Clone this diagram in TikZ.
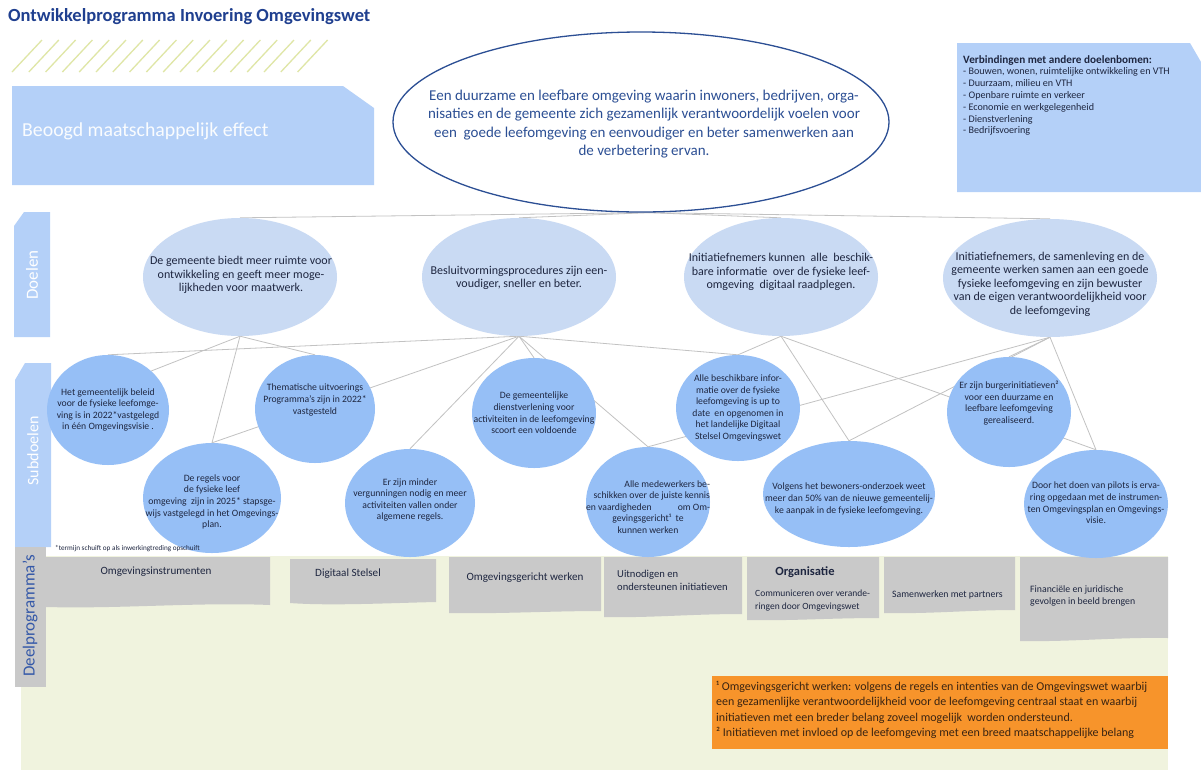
\documentclass[tikz,border=0pt]{standalone}
\usepackage{fontspec}
\setmainfont{Carlito}
\usetikzlibrary{shapes.geometric,backgrounds}

\definecolor{lblue}{HTML}{B4D0F8}
\definecolor{dellc}{HTML}{C9DAF3}
\definecolor{scirc}{HTML}{96BFF6}
\definecolor{navy}{HTML}{1E2640}
\definecolor{tblue}{HTML}{1F3F8F}
\definecolor{eblue}{HTML}{2C4F94}
\definecolor{gboxc}{HTML}{C9C9C9}
\definecolor{gbg}{HTML}{F0F3DE}
\definecolor{orng}{HTML}{F7942B}
\definecolor{hatchc}{HTML}{DFE6A6}
\definecolor{linegray}{HTML}{C2C2C2}
\definecolor{dblab}{HTML}{3458A8}
\definecolor{ftext}{HTML}{3A2412}

\newcommand\fsz[2]{\fontsize{#1}{#2}\selectfont}

\begin{document}
\begin{tikzpicture}[x=1pt,y=-1pt,
  doel/.style={ellipse, fill=dellc, draw=none, inner sep=0pt},
  sub/.style={ellipse, fill=scirc, draw=none, inner sep=0pt},
  dtext/.style={align=center, text=navy, font=\fsz{12}{13.5}, inner sep=0pt},
  stext/.style={align=center, text=navy, font=\fsz{9.7}{11.6}, inner sep=0pt},
  btext/.style={align=left, text=navy, font=\fsz{10}{12.5}, inner sep=0pt},
  cline/.style={draw=linegray, line width=0.8pt},
  vlab/.style={rotate=90, font=\fsz{17}{20}, inner sep=0pt}
]
\useasboundingbox (0,0) rectangle (1201,772);
\begin{scope}[on background layer]
  \fill[white] (0,0) rectangle (1201,772);
\end{scope}

% title
\node[anchor=west, text=tblue, font=\bfseries\fsz{18.5}{20}, inner sep=0pt] (title) at (8,17) {Ontwikkelprogramma Invoering Omgevingswet};

% hatch
\foreach \i in {0,...,17} \draw[hatchc, line width=1.3pt] (12+\i*16.8,72) -- ++(30,-32);

% beoogd box
\fill[lblue] (12,86) -- (343,86) -- (374,108) -- (374,185) -- (12,185) -- cycle;
\node[anchor=west, text=white!94!lblue, font=\fsz{19.8}{22}, inner sep=0pt] (beoogd) at (22,131) {Beoogd maatschappelijk effect};

% top-right box
\fill[lblue] (957,43) -- (1190,43) -- (1201,62) -- (1201,192) -- (957,192) -- cycle;
\node[anchor=north west, align=left, text=navy, font=\fsz{10.1}{11.8}, inner sep=0pt] (verb) at (963,55)
 {{\bfseries\fsz{11.2}{11.8}Verbindingen met andere doelenbomen:}\\
  - Bouwen, wonen, ruimtelijke ontwikkeling en VTH\\
  - Duurzaam, milieu en VTH\\
  - Openbare ruimte en verkeer\\
  - Economie en werkgelegenheid\\
  - Dienstverlening\\
  - Bedrijfsvoering};

% big ellipse
\node[ellipse, draw=eblue, line width=1.3pt, fill=white, minimum width=496pt, minimum height=180pt, inner sep=0pt] (E) at (641,122) {};
\node[align=center, text=eblue, font=\fsz{15}{18.5}, inner sep=0pt] (Et) at (644,124)
 {Een duurzame en leefbare omgeving waarin inwoners, bedrijven, orga-\\
  nisaties en de gemeente zich gezamenlijk verantwoordelijk voelen voor\\
  een\ \ goede leefomgeving en eenvoudiger en beter samenwerken aan\\
  de verbetering ervan.};

% left labels
\fill[lblue] (24,212) -- (50,212) -- (50,337) -- (14,337) -- (14,226) -- cycle;
\node[vlab, text=white] (ldoel) at (32,275) {Doelen};
\fill[lblue] (25,363) -- (51,363) -- (51,547) -- (15,547) -- (15,380) -- cycle;
\node[vlab, text=white, font=\fsz{16}{20}] (lsub) at (33,451) {Subdoelen};

% green background and deelprogramma boxes
\fill[gbg] (21,556) rectangle (1168,770);
\fill[gboxc] (15,547) rectangle (46,687);
\node[vlab, text=dblab, font=\fsz{17}{19}] (ldeel) at (30,616) {Deelprogramma’s};

\fill[gboxc] (46,557) -- (270,557) -- (270,605) .. controls (200,602) and (120,609) .. (46,607) -- cycle;
\node[text=navy, font=\fsz{11.1}{12.5}, inner sep=0pt] (b1) at (156,572) {Omgevingsinstrumenten};
\fill[gboxc] (290,559) -- (436,559) -- (436,602) .. controls (390,603) and (330,606) .. (290,603) -- cycle;
\node[text=navy, font=\fsz{11.1}{12.5}, inner sep=0pt] (b2) at (348,574) {Digitaal Stelsel};
\fill[gboxc] (449,557) -- (601,557) -- (601,611) .. controls (550,611) and (500,614) .. (449,613) -- cycle;
\node[text=navy, font=\fsz{11.1}{12.5}, inner sep=0pt] (b3) at (525,578) {Omgevingsgericht werken};
\fill[gboxc] (604,557) -- (742,557) -- (742,614) .. controls (690,614) and (650,618) .. (604,617) -- cycle;
\node[btext, anchor=north west, font=\fsz{10.6}{12.8}] (b4) at (617,570) {Uitnodigen en\\ ondersteunen initiatieven};
\fill[gboxc] (747,557) -- (879,557) -- (879,618) .. controls (830,618) and (790,621) .. (747,620) -- cycle;
\node[text=navy, font=\bfseries\fsz{12.5}{14}, inner sep=0pt] (b5) at (805,572) {Organisatie};
\node[btext, anchor=north west, font=\fsz{9.5}{12.5}] (b5s) at (755,590) {Communiceren over verande-\\ ringen door Omgevingswet};
\fill[gboxc] (884,557) -- (1015,557) -- (1015,610) .. controls (970,610) and (930,614) .. (884,613) -- cycle;
\node[btext, anchor=west, font=\fsz{9.8}{12}] (b6) at (892,595) {Samenwerken met partners};
\fill[gboxc] (1020,557) -- (1168,557) -- (1168,638) .. controls (1120,637) and (1070,642) .. (1020,641) -- cycle;
\node[btext, anchor=north west, font=\fsz{9.8}{12}] (b7) at (1030,585) {Financiële en juridische\\ gevolgen in beeld brengen};

% orange box
\fill[orng] (712,676) rectangle (1168,749);
\node[anchor=north west, align=left, text=ftext, font=\fsz{12}{15.3}, inner sep=0pt] (fn) at (716,681)
 {¹ Omgevingsgericht werken: volgens de regels en intenties van de Omgevingswet waarbij\\
  een gezamenlijke verantwoordelijkheid voor de leefomgeving centraal staat en waarbij\\
  initiatieven met een breder belang zoveel mogelijk\ \ worden ondersteund.\\
  ² Initiatieven met invloed op de leefomgeving met een breed maatschappelijke belang};

% doelen
\node[doel, minimum width=194pt, minimum height=118pt] (D1) at (240,277) {};
\node[dtext] (D1t) at (241,275) {De gemeente biedt meer ruimte voor\\ ontwikkeling en geeft meer moge-\\ lijkheden voor maatwerk.};
\node[doel, minimum width=194pt, minimum height=118pt] (D2) at (519,277) {};
\node[dtext] (D2t) at (519,278) {Besluitvormingsprocedures zijn een-\\ voudiger, sneller en beter.};
\node[doel, minimum width=194pt, minimum height=118pt] (D3) at (781,277) {};
\node[dtext] (D3t) at (781,272) {Initiatiefnemers kunnen\ \ alle\ \ beschik-\\ bare informatie\ \ over de fysieke leef-\\ omgeving\ \ digitaal raadplegen.};
\node[doel, minimum width=214pt, minimum height=118pt] (D4) at (1050,278) {};
\node[dtext] (D4t) at (1050,284) {Initiatiefnemers, de samenleving en de\\ gemeente werken samen aan een goede\\ fysieke leefomgeving en zijn bewuster\\ van de eigen verantwoordelijkheid voor\\ de leefomgeving};

% subdoelen
\node[sub, minimum width=122pt, minimum height=110pt] (S1) at (108,410) {};
\node[stext] (S1t) at (108,410) {Het gemeentelijk beleid\\ voor de fysieke leefomge-\\ ving is in 2022*vastgelegd\\ in één Omgevingsvisie .};
\node[sub, minimum width=120pt, minimum height=108pt] (S2) at (315,409) {};
\node[stext] (S2t) at (315,400) {Thematische uitvoerings\\ Programma’s zijn in 2022*\\ vastgesteld};
\node[sub, minimum width=138pt, minimum height=110pt] (S3) at (212,498) {};
\node[stext] (S3t) at (212,502) {De regels voor\\ de fysieke leef\\ omgeving\ \ zijn in 2025* stapsge-\\ wijs vastgelegd in het Omgevings-\\ plan.};
\node[sub, minimum width=130pt, minimum height=108pt] (S4) at (410,503) {};
\node[stext] (S4t) at (410,500) {Er zijn minder\\ vergunningen nodig en meer\\ activiteiten vallen onder\\ algemene regels.};
\node[sub, minimum width=124pt, minimum height=110pt] (S5) at (534,413) {};
\node[stext] (S5t) at (534,413) {De gemeentelijke\\ dienstverlening voor\\ activiteiten in de leefomgeving\\ scoort een voldoende};
\node[sub, minimum width=124pt, minimum height=106pt] (S6) at (738,408) {};
\node[stext] (S6t) at (738,408) {Alle beschikbare infor-\\ matie over de fysieke\\ leefomgeving is up to\\ date\ \ en opgenomen in\\ het landelijke Digitaal\\ Stelsel Omgevingswet};
\node[sub, minimum width=124pt, minimum height=110pt] (S7) at (648,502) {};
\node[stext] (S7t) at (648,507) {\makebox[124pt][r]{Alle medewerkers be-}\\ \makebox[124pt][r]{schikken over de juiste kennis}\\ \makebox[124pt]{en vaardigheden\hfill om Om-}\\ gevingsgericht¹\ \ te\\ kunnen werken};
\node[sub, minimum width=172pt, minimum height=106pt] (S8) at (849,494) {};
\node[stext] (S8t) at (849,499) {Volgens het bewoners-onderzoek weet\\ meer dan 50\% van de nieuwe gemeentelij-\\ ke aanpak in de fysieke leefomgeving.};
\node[sub, minimum width=124pt, minimum height=110pt] (S9) at (1009,412) {};
\node[stext] (S9t) at (1009,403) {Er zijn burgerinitiatieven²\\ voor een duurzame en\\ leefbare leefomgeving\\ gerealiseerd.};
\node[sub, minimum width=144pt, minimum height=108pt] (S10) at (1096,504) {};
\node[stext] (S10t) at (1096,503) {Door het doen van pilots is erva-\\ ring opgedaan met de instrumen-\\ ten Omgevingsplan en Omgevings-\\ visie.};

% footnote
\node[anchor=west, text=navy, font=\fsz{7.2}{8}, inner sep=0pt] (star) at (55,549) {*termijn schuift op als inwerkingtreding opschuift};

% connectors (behind)
\begin{scope}[on background layer]
  \coordinate (Ebot) at ([xshift=8pt]E.south);
  \foreach \d in {D1,D2,D3,D4} \draw[cline] (Ebot) -- (\d.north);
  \draw[cline] (D1.south) -- (S1.north east);
  \foreach \s in {S2,S3} \draw[cline] (D1.south) -- (\s.north);
  \foreach \s in {S1,S3,S4,S5,S6,S7} \draw[cline] (D2.south) -- (\s.north);
  \foreach \s in {S6,S8,S10} \draw[cline] (D3.south) -- (\s.north);
  \foreach \s in {S7,S8,S9,S10} \draw[cline] (D4.south) -- (\s.north);
\end{scope}
\end{tikzpicture}
\end{document}
